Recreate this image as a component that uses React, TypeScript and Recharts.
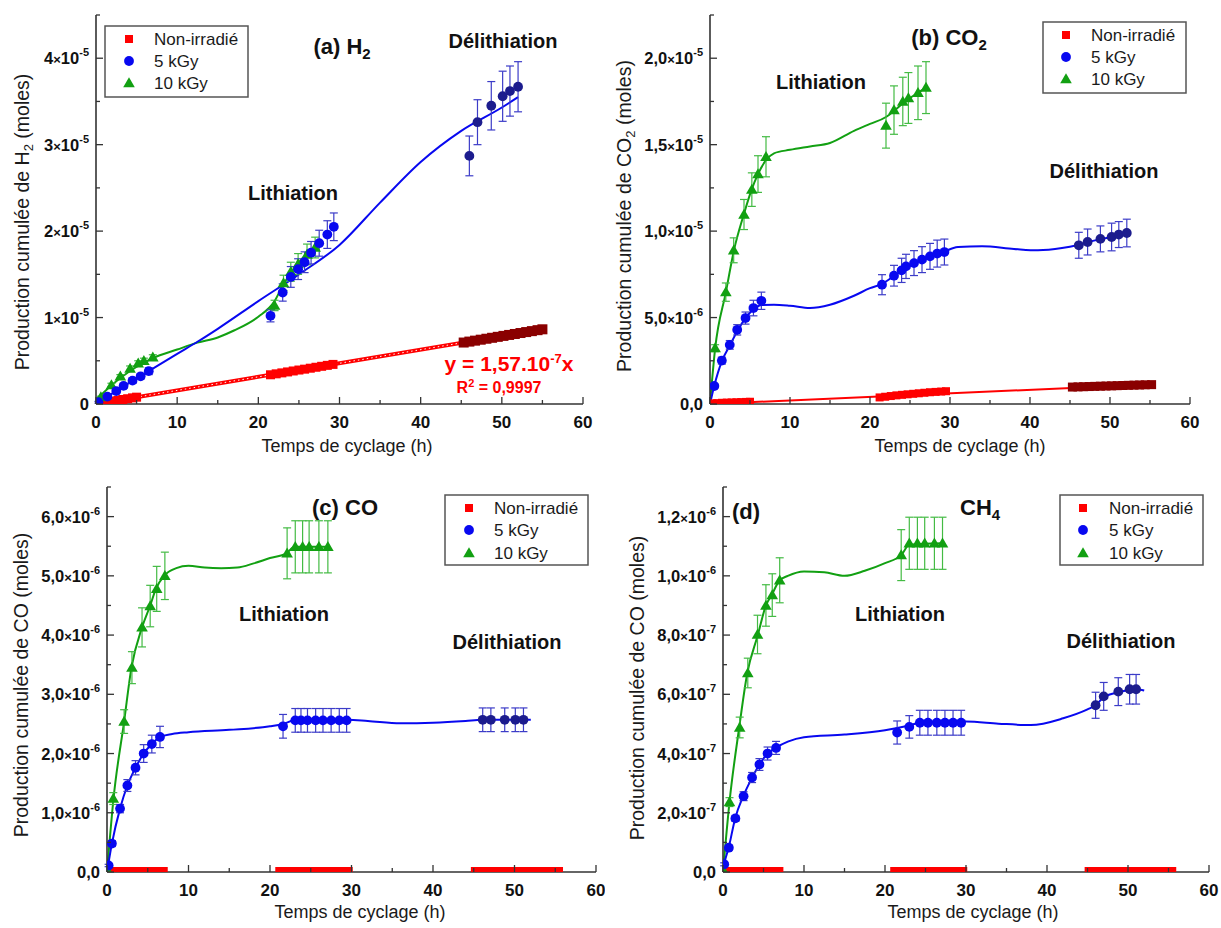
import React from "react";
import { ComposedChart, Line, Scatter, XAxis, YAxis, ErrorBar } from "recharts";

const FONT = '"Liberation Sans", Arial, Helvetica, sans-serif';
const AXIS = "#333333";
const RED = "#ff0000";
const DARK_RED = "#8a0000";
const RED_ERR = "#e58a8a";
const BLUE = "#0808f0";
const DARK_BLUE = "#1c1c8e";
const BLUE_ERR = "#3c3cc8";
const GREEN = "#12a012";
const GREEN_ERR = "#44bb44";

const xTicks = [0, 5, 10, 15, 20, 25, 30, 35, 40, 45, 50, 55, 60];

// ---------- (a) H2, values in 1e-5 moles ----------
const aBlueT = [0.3, 1.4, 2.5, 3.4, 4.5, 5.5, 6.5, 21.5, 23.0, 24.0, 24.9, 25.7, 26.5, 27.5, 28.5, 29.3];
const aBlueV = [0.02, 0.085, 0.15, 0.21, 0.27, 0.32, 0.38, 1.02, 1.29, 1.47, 1.56, 1.64, 1.75, 1.86, 1.96, 2.05];
const aBlueE = [0.01, 0.02, 0.02, 0.03, 0.03, 0.03, 0.04, 0.07, 0.1, 0.12, 0.12, 0.12, 0.13, 0.15, 0.16, 0.16];
const aBlueLateT = [46.0, 47.0, 48.7, 50.1, 51.0, 52.0];
const aBlueLateV = [2.87, 3.26, 3.45, 3.56, 3.62, 3.67];
const aBlueLateE = [0.23, 0.26, 0.28, 0.29, 0.29, 0.29];
const aGreenT = [0.6, 1.9, 3.0, 4.2, 5.2, 5.9, 7.0, 22.0, 23.1, 24.0, 24.9, 26.0, 27.0];
const aGreenV = [0.08, 0.22, 0.32, 0.41, 0.47, 0.5, 0.54, 1.14, 1.4, 1.53, 1.62, 1.73, 1.81];
const aGreenE = [0.01, 0.02, 0.02, 0.03, 0.03, 0.03, 0.03, 0.06, 0.09, 0.11, 0.12, 0.12, 0.12];
const aBlueFitT = [0, 3, 6.5, 10, 12.5, 15, 20, 25, 30, 35, 40, 45, 50, 52];
const aBlueFitV = [0, 0.18, 0.38, 0.58, 0.72, 0.87, 1.19, 1.5, 1.84, 2.33, 2.8, 3.16, 3.43, 3.55];
const aGreenFitT = [0, 3, 7, 10, 12.5, 15, 17, 20, 22, 23, 25, 27];
const aGreenFitV = [0.05, 0.3, 0.53, 0.63, 0.71, 0.77, 0.85, 1.01, 1.19, 1.37, 1.64, 1.82];
// non irradiated, values in 1e-6
const aRedT = [0.3, 0.9, 1.5, 2.1, 2.7, 3.3, 3.9, 4.5, 5.0, 21.5, 22.2, 22.9, 23.6, 24.3, 25.0, 25.7, 26.4, 27.1, 27.8, 28.5, 29.2];
const aRedV = [0.05, 0.14, 0.24, 0.33, 0.42, 0.52, 0.61, 0.71, 0.79, 3.38, 3.49, 3.6, 3.71, 3.82, 3.93, 4.03, 4.14, 4.25, 4.36, 4.47, 4.58];
const aRedLateT = [45.3, 46.0, 46.7, 47.4, 48.1, 48.8, 49.5, 50.2, 50.9, 51.6, 52.3, 53.0, 53.7, 54.4, 55.0];
const aRedLateV = [7.11, 7.22, 7.33, 7.44, 7.55, 7.66, 7.77, 7.88, 7.99, 8.1, 8.21, 8.32, 8.43, 8.54, 8.64];
const aRedLateE = [0.45, 0.45, 0.45, 0.45, 0.45, 0.45, 0.45, 0.45, 0.45, 0.45, 0.45, 0.45, 0.45, 0.45, 0.45];
const aRedFitT = [0, 55];
const aRedFitV = [0, 8.64];

// ---------- (b) CO2, values in 1e-6 moles ----------
const bBlueT = [0.54, 1.48, 2.47, 3.4, 4.44, 5.43, 6.42, 21.5, 23.0, 23.95, 24.5, 25.5, 26.5, 27.5, 28.4, 29.3];
const bBlueV = [1.04, 2.51, 3.42, 4.29, 4.97, 5.55, 5.97, 6.9, 7.42, 7.73, 7.96, 8.15, 8.35, 8.54, 8.7, 8.79];
const bBlueE = [0.12, 0.2, 0.25, 0.3, 0.35, 0.45, 0.5, 0.58, 0.6, 0.7, 0.7, 0.72, 0.75, 0.75, 0.78, 0.75];
const bBlueLateT = [46.1, 47.2, 48.8, 50.2, 51.1, 52.1];
const bBlueLateV = [9.18, 9.37, 9.55, 9.66, 9.8, 9.89];
const bBlueLateE = [0.75, 0.75, 0.75, 0.8, 0.75, 0.8];
const bGreenT = [0.64, 1.98, 2.96, 4.25, 5.23, 6.0, 7.0, 22.0, 23.0, 24.1, 24.8, 26.0, 27.0];
const bGreenV = [3.23, 6.47, 8.89, 10.96, 12.4, 13.3, 14.3, 16.1, 17.0, 17.5, 17.7, 18.0, 18.3];
const bGreenE = [0.2, 0.53, 0.72, 0.87, 0.97, 1.06, 1.16, 1.3, 1.4, 1.4, 1.47, 1.55, 1.5];
const bBlueFitT = [0, 0.5, 1.5, 2.5, 3.5, 4.5, 5.5, 6.5, 8, 10, 12.5, 15, 18, 20, 21.5, 23, 25, 27, 29, 31, 34, 38, 41, 44, 46, 48, 50, 52];
const bBlueFitV = [0, 1.0, 2.5, 3.4, 4.3, 5.0, 5.5, 5.72, 5.74, 5.68, 5.55, 5.74, 6.26, 6.7, 6.95, 7.4, 8.0, 8.4, 8.75, 9.08, 9.12, 8.97, 8.89, 9.02, 9.2, 9.45, 9.65, 9.9];
const bGreenFitT = [0, 0.64, 2, 3, 4.25, 5.2, 6, 7, 8, 10, 12.5, 15, 18, 20, 22, 23, 24, 25, 26, 27];
const bGreenFitV = [0, 3.2, 6.5, 8.9, 11.0, 12.4, 13.3, 14.1, 14.5, 14.7, 14.9, 15.1, 15.8, 16.2, 16.6, 16.95, 17.35, 17.7, 18.0, 18.3];
const bRedT = [0.3, 0.9, 1.5, 2.1, 2.7, 3.3, 3.9, 4.5, 5.0, 21.2, 21.9, 22.6, 23.3, 24.0, 24.7, 25.4, 26.1, 26.8, 27.5, 28.2, 28.9, 29.5];
const bRedV = [0.04, 0.05, 0.07, 0.08, 0.09, 0.1, 0.11, 0.12, 0.13, 0.38, 0.42, 0.46, 0.5, 0.53, 0.56, 0.59, 0.62, 0.65, 0.68, 0.7, 0.72, 0.74];
const bRedLateT = [45.3, 46.0, 46.7, 47.4, 48.1, 48.8, 49.5, 50.2, 50.9, 51.6, 52.3, 53.0, 53.7, 54.4, 55.2];
const bRedLateV = [0.98, 0.99, 1.0, 1.01, 1.02, 1.03, 1.04, 1.05, 1.06, 1.07, 1.08, 1.09, 1.1, 1.11, 1.12];
const bRedLateE = [0.1, 0.1, 0.1, 0.1, 0.1, 0.1, 0.1, 0.1, 0.1, 0.1, 0.1, 0.1, 0.1, 0.1, 0.1];
const bRedFitT = [0, 55.5];
const bRedFitV = [0, 1.14];

// ---------- (c) CO, values in 1e-6 moles ----------
const cBlueT = [0.2, 0.6, 1.6, 2.5, 3.5, 4.5, 5.5, 6.5, 21.6, 23.1, 23.8, 24.6, 25.6, 26.5, 27.5, 28.5, 29.4];
const cBlueV = [0.11, 0.48, 1.07, 1.46, 1.76, 2.0, 2.16, 2.28, 2.46, 2.56, 2.56, 2.56, 2.56, 2.56, 2.56, 2.56, 2.56];
const cBlueE = [0.02, 0.05, 0.07, 0.1, 0.12, 0.15, 0.15, 0.18, 0.2, 0.2, 0.2, 0.2, 0.2, 0.2, 0.2, 0.2, 0.2];
const cBlueLateT = [46.1, 47.1, 48.8, 50.1, 51.1];
const cBlueLateV = [2.57, 2.57, 2.57, 2.57, 2.57];
const cBlueLateE = [0.2, 0.2, 0.2, 0.2, 0.2];
const cGreenT = [0.1, 0.77, 2.1, 3.06, 4.3, 5.3, 6.1, 7.1, 22.1, 23.1, 24.0, 24.8, 26.0, 27.1];
const cGreenV = [0.02, 1.24, 2.54, 3.45, 4.13, 4.49, 4.78, 5.0, 5.38, 5.49, 5.49, 5.49, 5.49, 5.49];
const cGreenE = [0, 0.1, 0.2, 0.27, 0.33, 0.35, 0.38, 0.4, 0.43, 0.44, 0.44, 0.44, 0.44, 0.44];
const cBlueFitT = [0, 0.6, 1.6, 2.5, 3.5, 4.5, 5.5, 6.5, 8, 10, 15, 20, 21.6, 23, 26, 29.5, 32, 36, 40, 44, 46, 52];
const cBlueFitV = [0, 0.48, 1.07, 1.46, 1.76, 2.0, 2.16, 2.28, 2.33, 2.36, 2.4, 2.46, 2.5, 2.56, 2.57, 2.57, 2.55, 2.51, 2.52, 2.55, 2.57, 2.57];
const cGreenFitT = [0, 0.8, 2.1, 3, 4.3, 5.3, 6, 7, 8.5, 10, 12, 14, 16, 18, 20, 22, 23, 27.2];
const cGreenFitV = [0, 1.24, 2.54, 3.45, 4.13, 4.5, 4.78, 5.0, 5.13, 5.17, 5.14, 5.13, 5.14, 5.21, 5.3, 5.38, 5.49, 5.49];

// non irradiated points of (c) and (d): all at zero
const cdRedT = [0.6, 1.3, 2.0, 2.7, 3.4, 4.1, 4.8, 5.5, 6.2, 6.9, 21.2, 21.9, 22.6, 23.3, 24.0, 24.7, 25.4, 26.1, 26.8, 27.5, 28.2, 28.9, 29.6, 45.2, 45.9, 46.6, 47.3, 48.0, 48.7, 49.4, 50.1, 50.8, 51.5, 52.2, 52.9, 53.6, 54.3, 55.0, 55.4];
const cdRedV = [0, 0, 0, 0, 0, 0, 0, 0, 0, 0, 0, 0, 0, 0, 0, 0, 0, 0, 0, 0, 0, 0, 0, 0, 0, 0, 0, 0, 0, 0, 0, 0, 0, 0, 0, 0, 0, 0, 0];

// ---------- (d) CH4, values in 1e-7 moles ----------
const dBlueT = [0.15, 0.72, 1.53, 2.54, 3.59, 4.5, 5.5, 6.55, 21.5, 23.0, 24.3, 25.3, 26.4, 27.4, 28.4, 29.4];
const dBlueV = [0.26, 0.82, 1.81, 2.56, 3.19, 3.63, 4.0, 4.19, 4.71, 4.9, 5.04, 5.04, 5.04, 5.04, 5.04, 5.04];
const dBlueE = [0.05, 0.08, 0.1, 0.15, 0.17, 0.2, 0.22, 0.22, 0.39, 0.38, 0.42, 0.42, 0.42, 0.42, 0.42, 0.42];
const dBlueLateT = [46.0, 47.0, 48.8, 50.2, 51.0];
const dBlueLateV = [5.63, 5.93, 6.09, 6.17, 6.17];
const dBlueLateE = [0.44, 0.47, 0.47, 0.5, 0.5];
const dGreenT = [0.1, 0.8, 2.06, 3.06, 4.26, 5.3, 6.08, 7.0, 22.0, 23.0, 24.0, 24.9, 26.1, 27.1];
const dGreenV = [0.02, 2.36, 4.88, 6.72, 8.02, 9.0, 9.35, 9.85, 10.7, 11.1, 11.1, 11.1, 11.1, 11.1];
const dGreenE = [0, 0.15, 0.35, 0.5, 0.65, 0.7, 0.72, 0.76, 0.86, 0.88, 0.88, 0.88, 0.88, 0.88];
const dBlueFitT = [0, 0.15, 0.7, 1.5, 2.5, 3.6, 4.5, 5.5, 6.5, 8, 10, 15, 20, 23, 25, 30, 34, 38, 42, 45, 46, 47, 49, 51, 52];
const dBlueFitV = [0, 0.26, 0.82, 1.81, 2.56, 3.19, 3.63, 4.0, 4.19, 4.4, 4.55, 4.64, 4.79, 4.95, 5.08, 5.08, 5.01, 4.96, 5.19, 5.49, 5.63, 5.9, 6.08, 6.17, 6.13];
const dGreenFitT = [0, 0.8, 2, 3, 4.3, 5.3, 6, 7, 8, 10, 12.5, 15, 17.5, 20, 22, 23, 27.2];
const dGreenFitV = [0, 2.36, 4.88, 6.72, 8.0, 9.0, 9.35, 9.85, 10.0, 10.15, 10.12, 10.0, 10.17, 10.43, 10.7, 11.05, 11.1];

type Pt = { t: number; v: number; e: number };
const zip = (t: number[], v: number[], unit: number, e?: number[]): Pt[] =>
  t.map((x, i) => ({ t: x, v: v[i] * unit, e: e ? e[i] * unit : 0 }));

// ---------- marker shapes ----------
const square = (c: string, s = 7) => (p: any) => <rect x={p.cx - s / 2} y={p.cy - s / 2} width={s} height={s} fill={c} />;
// half square sitting on the x axis (points at zero are clipped by the frame)
const baseSquare = (c: string) => (p: any) => <rect x={p.cx - 4.5} y={p.cy - 5} width={9} height={5} fill={c} />;
const circle = (c: string) => (p: any) => <circle cx={p.cx} cy={p.cy} r={4.9} fill={c} />;
const triangle = (c: string) => (p: any) => (
  <polygon points={`${p.cx},${p.cy - 5.8} ${p.cx + 5.8},${p.cy + 4.2} ${p.cx - 5.8},${p.cy + 4.2}`} fill={c} />
);

type Fit = { data: Pt[]; color: string; width: number; dotted?: boolean };
type Mark = { data: Pt[]; shape: (p: any) => React.ReactElement; err?: string };
type PanelCfg = {
  box: number[];
  plot: number[];
  yMax: number;
  yTicks: number[];
  yMajor: number[];
  yMant: string[];
  yExp: string[];
  fits: Fit[];
  marks: Mark[];
};

const near = (a: number, b: number, tol: number) => Math.abs(a - b) < tol;

const tickText = { fontFamily: FONT, fontWeight: 700, fill: "#111" } as const;

function bottomTick(p: any) {
  const major = near(p.payload.value % 10, 0, 1e-6);
  return (
    <g>
      <line x1={p.x} y1={p.y} x2={p.x} y2={p.y - (major ? 7 : 4)} stroke={AXIS} strokeWidth={1.3} />
      {major && (
        <text x={p.x} y={p.y + 24} textAnchor="middle" fontSize={17} {...tickText}>
          {p.payload.value}
        </text>
      )}
    </g>
  );
}

function topTick(p: any) {
  const major = near(p.payload.value % 10, 0, 1e-6);
  return <line x1={p.x} y1={p.y} x2={p.x} y2={p.y + (major ? 7 : 4)} stroke={AXIS} strokeWidth={1.3} />;
}

const leftTick = (cfg: PanelCfg) => (p: any) => {
  const i = cfg.yMajor.findIndex((m) => near(m, p.payload.value, cfg.yMajor[1] * 1e-3));
  return (
    <g>
      <line x1={p.x} y1={p.y} x2={p.x + (i >= 0 ? 7 : 4)} y2={p.y} stroke={AXIS} strokeWidth={1.3} />
      {i >= 0 && (
        <text x={p.x - 7} y={p.y + 6} textAnchor="end" fontSize={16.5} {...tickText}>
          {cfg.yMant[i]}
          {cfg.yExp[i] ? (
            <>
              <tspan fontSize={13}>×</tspan>10<tspan dy={-8} fontSize={11}>{cfg.yExp[i]}</tspan>
            </>
          ) : null}
        </text>
      )}
    </g>
  );
};

const rightTick = (cfg: PanelCfg) => (p: any) => {
  const major = cfg.yMajor.some((m) => near(m, p.payload.value, cfg.yMajor[1] * 1e-3));
  return <line x1={p.x} y1={p.y} x2={p.x - (major ? 7 : 4)} y2={p.y} stroke={AXIS} strokeWidth={1.3} />;
};

const axisLine = { stroke: AXIS, strokeWidth: 1.6 };

function Panel({ cfg }: { cfg: PanelCfg }) {
  const [bx, by, bw, bh] = cfg.box;
  const [pl, pt, pr, pb] = cfg.plot;
  return (
    <div style={{ position: "absolute", left: bx, top: by }}>
      <ComposedChart width={bw} height={bh} margin={{ top: pt - by, right: bx + bw - pr, bottom: 0, left: 0 }}>
        <XAxis
          dataKey="t"
          type="number"
          domain={[0, 60]}
          ticks={xTicks}
          interval={0}
          allowDataOverflow
          height={by + bh - pb}
          tickSize={0}
          tickMargin={0}
          tickLine={false}
          tick={bottomTick}
          axisLine={axisLine}
        />
        <XAxis
          xAxisId="top"
          orientation="top"
          type="number"
          domain={[0, 60]}
          ticks={xTicks}
          interval={0}
          height={0}
          tickSize={0}
          tickMargin={0}
          tickLine={false}
          tick={topTick}
          axisLine={axisLine}
        />
        <YAxis
          type="number"
          domain={[0, cfg.yMax]}
          ticks={cfg.yTicks}
          interval={0}
          allowDataOverflow
          width={pl - bx}
          tickSize={0}
          tickMargin={0}
          tickLine={false}
          tick={leftTick(cfg)}
          axisLine={axisLine}
        />
        <YAxis
          yAxisId="right"
          orientation="right"
          type="number"
          domain={[0, cfg.yMax]}
          ticks={cfg.yTicks}
          interval={0}
          width={0}
          tickSize={0}
          tickMargin={0}
          tickLine={false}
          tick={rightTick(cfg)}
          axisLine={axisLine}
        />
        {cfg.fits.map((f, i) => (
          <Line
            key={`f${i}`}
            data={f.data}
            dataKey="v"
            type="monotone"
            stroke={f.color}
            strokeWidth={f.width}
            dot={false}
            isAnimationActive={false}
          />
        ))}
        {cfg.fits
          .filter((f) => f.dotted)
          .map((f, i) => (
            <Line
              key={`d${i}`}
              data={f.data}
              dataKey="v"
              type="linear"
              stroke="#ffffff"
              strokeWidth={1}
              strokeDasharray="1.5 3"
              dot={false}
              isAnimationActive={false}
            />
          ))}
        {cfg.marks.map((m, i) => (
          <Scatter key={`m${i}`} data={m.data} dataKey="v" shape={m.shape} isAnimationActive={false}>
            {m.err ? <ErrorBar dataKey="e" direction="y" width={4} stroke={m.err} strokeWidth={1.2} /> : null}
          </Scatter>
        ))}
      </ComposedChart>
    </div>
  );
}

const panelA: PanelCfg = {
  box: [0, 0, 605, 462],
  plot: [96, 15, 583, 404],
  yMax: 4.5e-5,
  yTicks: [0, 0.5e-5, 1e-5, 1.5e-5, 2e-5, 2.5e-5, 3e-5, 3.5e-5, 4e-5, 4.5e-5],
  yMajor: [0, 1e-5, 2e-5, 3e-5, 4e-5],
  yMant: ["0", "1", "2", "3", "4"],
  yExp: ["", "-5", "-5", "-5", "-5"],
  fits: [
    { data: zip(aRedFitT, aRedFitV, 1e-6), color: RED, width: 4, dotted: true },
    { data: zip(aGreenFitT, aGreenFitV, 1e-5), color: GREEN, width: 2 },
    { data: zip(aBlueFitT, aBlueFitV, 1e-5), color: BLUE, width: 2 },
  ],
  marks: [
    { data: zip(aRedT, aRedV, 1e-6), shape: square(RED, 9) },
    { data: zip(aRedLateT, aRedLateV, 1e-6, aRedLateE), shape: square(DARK_RED, 10), err: RED_ERR },
    { data: zip(aGreenT, aGreenV, 1e-5, aGreenE), shape: triangle(GREEN), err: GREEN_ERR },
    { data: zip(aBlueT, aBlueV, 1e-5, aBlueE), shape: circle(BLUE), err: BLUE_ERR },
    { data: zip(aBlueLateT, aBlueLateV, 1e-5, aBlueLateE), shape: circle(DARK_BLUE), err: BLUE_ERR },
  ],
};

const panelB: PanelCfg = {
  box: [605, 0, 616, 462],
  plot: [710, 15, 1190, 404],
  yMax: 2.25e-5,
  yTicks: [0, 2.5e-6, 5e-6, 7.5e-6, 1e-5, 1.25e-5, 1.5e-5, 1.75e-5, 2e-5, 2.25e-5],
  yMajor: [0, 5e-6, 1e-5, 1.5e-5, 2e-5],
  yMant: ["0,0", "5,0", "1,0", "1,5", "2,0"],
  yExp: ["", "-6", "-5", "-5", "-5"],
  fits: [
    { data: zip(bRedFitT, bRedFitV, 1e-6), color: RED, width: 2 },
    { data: zip(bGreenFitT, bGreenFitV, 1e-6), color: GREEN, width: 2 },
    { data: zip(bBlueFitT, bBlueFitV, 1e-6), color: BLUE, width: 2 },
  ],
  marks: [
    { data: zip(bRedT, bRedV, 1e-6), shape: square(RED, 8) },
    { data: zip(bRedLateT, bRedLateV, 1e-6, bRedLateE), shape: square(DARK_RED, 9), err: RED_ERR },
    { data: zip(bGreenT, bGreenV, 1e-6, bGreenE), shape: triangle(GREEN), err: GREEN_ERR },
    { data: zip(bBlueT, bBlueV, 1e-6, bBlueE), shape: circle(BLUE), err: BLUE_ERR },
    { data: zip(bBlueLateT, bBlueLateV, 1e-6, bBlueLateE), shape: circle(DARK_BLUE), err: BLUE_ERR },
  ],
};

const panelC: PanelCfg = {
  box: [0, 464, 605, 464],
  plot: [107, 487, 596, 872],
  yMax: 6.5e-6,
  yTicks: [0, 0.5e-6, 1e-6, 1.5e-6, 2e-6, 2.5e-6, 3e-6, 3.5e-6, 4e-6, 4.5e-6, 5e-6, 5.5e-6, 6e-6, 6.5e-6],
  yMajor: [0, 1e-6, 2e-6, 3e-6, 4e-6, 5e-6, 6e-6],
  yMant: ["0,0", "1,0", "2,0", "3,0", "4,0", "5,0", "6,0"],
  yExp: ["", "-6", "-6", "-6", "-6", "-6", "-6"],
  fits: [
    { data: zip(cGreenFitT, cGreenFitV, 1e-6), color: GREEN, width: 2 },
    { data: zip(cBlueFitT, cBlueFitV, 1e-6), color: BLUE, width: 2 },
  ],
  marks: [
    { data: zip(cdRedT, cdRedV, 1e-6), shape: baseSquare(RED) },
    { data: zip(cGreenT, cGreenV, 1e-6, cGreenE), shape: triangle(GREEN), err: GREEN_ERR },
    { data: zip(cBlueT, cBlueV, 1e-6, cBlueE), shape: circle(BLUE), err: BLUE_ERR },
    { data: zip(cBlueLateT, cBlueLateV, 1e-6, cBlueLateE), shape: circle(DARK_BLUE), err: BLUE_ERR },
  ],
};

const panelD: PanelCfg = {
  box: [605, 464, 616, 464],
  plot: [723, 487, 1209, 872],
  yMax: 1.3e-6,
  yTicks: [0, 1e-7, 2e-7, 3e-7, 4e-7, 5e-7, 6e-7, 7e-7, 8e-7, 9e-7, 1e-6, 1.1e-6, 1.2e-6, 1.3e-6],
  yMajor: [0, 2e-7, 4e-7, 6e-7, 8e-7, 1e-6, 1.2e-6],
  yMant: ["0,0", "2,0", "4,0", "6,0", "8,0", "1,0", "1,2"],
  yExp: ["", "-7", "-7", "-7", "-7", "-6", "-6"],
  fits: [
    { data: zip(dGreenFitT, dGreenFitV, 1e-7), color: GREEN, width: 2 },
    { data: zip(dBlueFitT, dBlueFitV, 1e-7), color: BLUE, width: 2 },
  ],
  marks: [
    { data: zip(cdRedT, cdRedV, 1e-7), shape: baseSquare(RED) },
    { data: zip(dGreenT, dGreenV, 1e-7, dGreenE), shape: triangle(GREEN), err: GREEN_ERR },
    { data: zip(dBlueT, dBlueV, 1e-7, dBlueE), shape: circle(BLUE), err: BLUE_ERR },
    { data: zip(dBlueLateT, dBlueLateV, 1e-7, dBlueLateE), shape: circle(DARK_BLUE), err: BLUE_ERR },
  ],
};

const legendLabels = ["Non-irradié", "5 kGy", "10 kGy"];

function LegendBox({ x, y, w, h, rows, sx, tx }: { x: number; y: number; w: number; h: number; rows: number[]; sx: number; tx: number }) {
  const shapes = [square(RED, 8), circle(BLUE), triangle(GREEN)];
  return (
    <g>
      <rect x={x} y={y} width={w} height={h} fill="#fff" stroke="#555" strokeWidth={1.5} />
      {rows.map((ry, i) => (
        <g key={i}>
          {shapes[i]({ cx: sx, cy: ry })}
          <text x={tx} y={ry + 6} fontSize={17} fill="#1a1a1a">
            {legendLabels[i]}
          </text>
        </g>
      ))}
    </g>
  );
}

function Overlay() {
  const bold = { fontWeight: 700, fill: "#111" } as const;
  const redB = { fontWeight: 700, fill: RED } as const;
  return (
    <svg
      width={1221}
      height={928}
      style={{ position: "absolute", left: 0, top: 0, pointerEvents: "none" }}
      fontFamily={FONT}
    >
      {/* (a) */}
      <text x={342} y={54} textAnchor="middle" fontSize={22} {...bold}>
        (a) H<tspan dy={5} fontSize={15}>2</tspan>
      </text>
      <text x={503} y={48} textAnchor="middle" fontSize={20} {...bold}>Délithiation</text>
      <text x={293} y={200} textAnchor="middle" fontSize={20} {...bold}>Lithiation</text>
      <text x={509} y={371} textAnchor="middle" fontSize={21} {...redB}>
        y = 1,57.10<tspan dy={-8} fontSize={13}>-7</tspan><tspan dy={8}>x</tspan>
      </text>
      <text x={499} y={393} textAnchor="middle" fontSize={16} {...redB}>
        R<tspan dy={-6} fontSize={11}>2</tspan><tspan dy={6}> = 0,9997</tspan>
      </text>
      <LegendBox x={105} y={26} w={143} h={71} rows={[39, 61, 83]} sx={129} tx={154} />
      <text x={347} y={452} textAnchor="middle" fontSize={18} fill="#1a1a1a">Temps de cyclage (h)</text>
      <text transform="translate(29,222) rotate(-90)" textAnchor="middle" fontSize={19.5} fill="#1a1a1a">
        Production cumulée de H<tspan dy={4} fontSize={13}>2</tspan><tspan dy={-4}> (moles)</tspan>
      </text>

      {/* (b) */}
      <text x={949} y={45} textAnchor="middle" fontSize={22} {...bold}>
        (b) CO<tspan dy={5} fontSize={15}>2</tspan>
      </text>
      <text x={821} y={89} textAnchor="middle" fontSize={20} {...bold}>Lithiation</text>
      <text x={1104} y={178} textAnchor="middle" fontSize={20} {...bold}>Délithiation</text>
      <LegendBox x={1043} y={22} w={143} h={71} rows={[35, 57, 79]} sx={1066} tx={1091} />
      <text x={960} y={452} textAnchor="middle" fontSize={18} fill="#1a1a1a">Temps de cyclage (h)</text>
      <text transform="translate(631,216) rotate(-90)" textAnchor="middle" fontSize={19.5} fill="#1a1a1a">
        Production cumulée de CO<tspan dy={4} fontSize={13}>2</tspan><tspan dy={-4}> (moles)</tspan>
      </text>

      {/* (c) */}
      <text x={345} y={515} textAnchor="middle" fontSize={22} {...bold}>(c) CO</text>
      <text x={284} y={621} textAnchor="middle" fontSize={20} {...bold}>Lithiation</text>
      <text x={507} y={649} textAnchor="middle" fontSize={20} {...bold}>Délithiation</text>
      <LegendBox x={445} y={495} w={143} h={70} rows={[508, 530, 553]} sx={469} tx={494} />
      <text x={360} y={918} textAnchor="middle" fontSize={18} fill="#1a1a1a">Temps de cyclage (h)</text>
      <text transform="translate(28,685) rotate(-90)" textAnchor="middle" fontSize={19.5} fill="#1a1a1a">
        Production cumulée de CO (moles)
      </text>

      {/* (d) */}
      <text x={746} y={519} textAnchor="middle" fontSize={22} {...bold}>(d)</text>
      <text x={960} y={515} fontSize={22} {...bold}>
        CH<tspan dy={5} fontSize={15}>4</tspan>
      </text>
      <text x={900} y={621} textAnchor="middle" fontSize={20} {...bold}>Lithiation</text>
      <text x={1121} y={648} textAnchor="middle" fontSize={20} {...bold}>Délithiation</text>
      <LegendBox x={1060} y={495} w={143} h={70} rows={[508, 530, 553]} sx={1083} tx={1109} />
      <text x={973} y={918} textAnchor="middle" fontSize={18} fill="#1a1a1a">Temps de cyclage (h)</text>
      <text transform="translate(644,688) rotate(-90)" textAnchor="middle" fontSize={19.5} fill="#1a1a1a">
        Production cumulée de CO (moles)
      </text>
    </svg>
  );
}

export default function App() {
  return (
    <div style={{ position: "absolute", left: 0, top: 0, width: 1221, height: 928, background: "#fff", fontFamily: FONT }}>
      <Panel cfg={panelA} />
      <Panel cfg={panelB} />
      <Panel cfg={panelC} />
      <Panel cfg={panelD} />
      <Overlay />
    </div>
  );
}
